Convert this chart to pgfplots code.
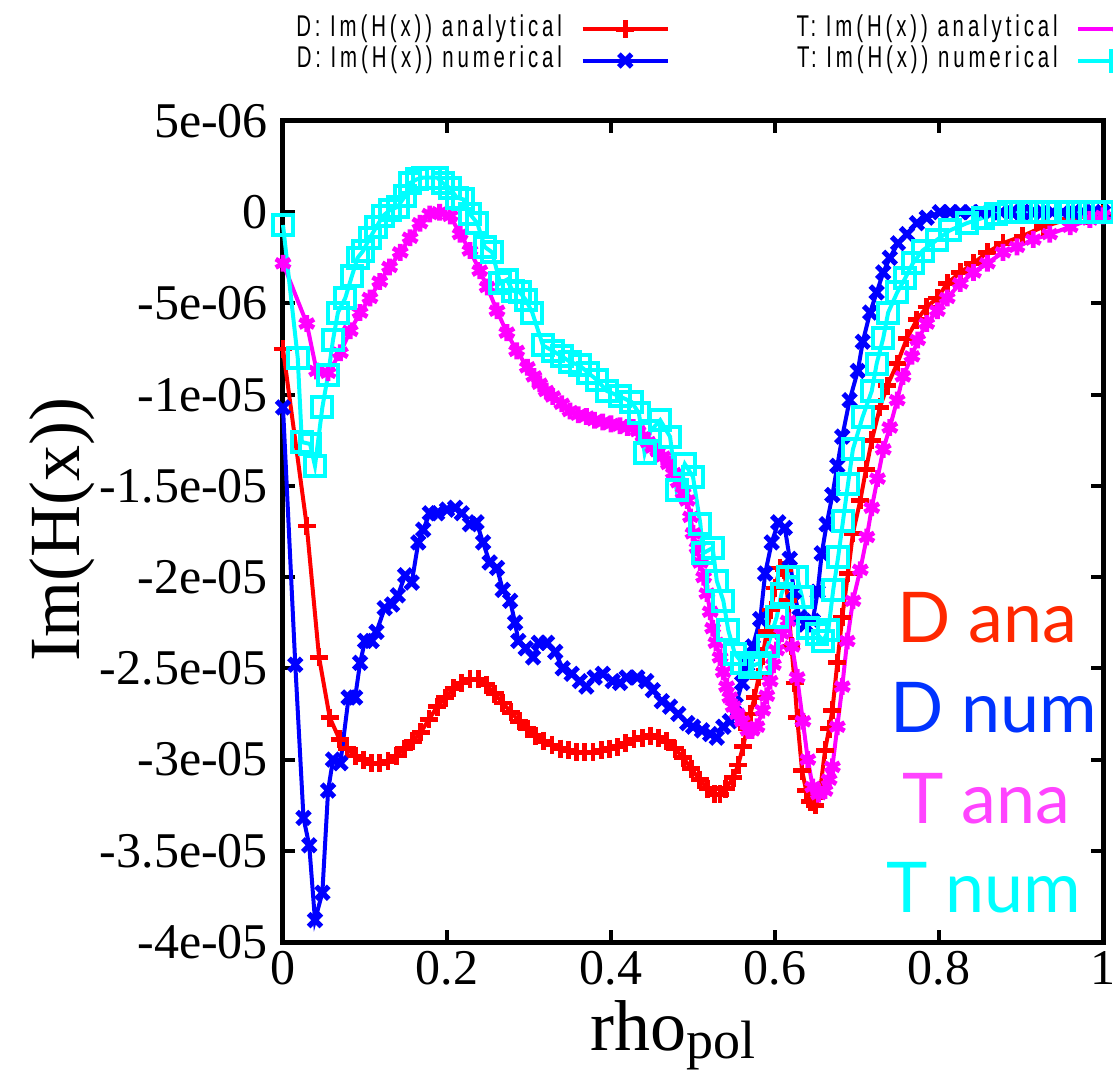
\documentclass[border=0pt]{standalone}
\usepackage{pgfplots}
\pgfplotsset{compat=1.18}
\usepackage{fontspec}
\setmainfont{Liberation Serif}
\newfontfamily\legfont[FakeStretch=0.68,LetterSpace=13]{Liberation Sans}
\newfontfamily\annfont{Lato}
\definecolor{cDana}{RGB}{255,40,0}
\definecolor{cDnum}{RGB}{0,51,255}
\definecolor{cTana}{RGB}{255,68,255}
\definecolor{cTnum}{RGB}{0,255,255}
\definecolor{pRed}{RGB}{255,0,0}
\definecolor{pBlue}{RGB}{0,0,255}
\definecolor{pMag}{RGB}{255,0,255}
\begin{document}
\begin{tikzpicture}
\begin{axis}[
 scale only axis, width=410pt, height=410.5pt,
 at={(0,0)}, anchor=south west,
 xmin=0, xmax=1, ymin=-4e-5, ymax=5e-6,
 xtick={0,0.2,0.4,0.6,0.8,1}, xticklabels={0,0.2,0.4,0.6,0.8,1},
 ytick={-4e-5,-3.5e-5,-3e-5,-2.5e-5,-2e-5,-1.5e-5,-1e-5,-5e-6,0,5e-6},
 yticklabels={-4e-05,-3.5e-05,-3e-05,-2.5e-05,-2e-05,-1.5e-05,-1e-05,-5e-06,0,5e-06},
 scaled ticks=false,
 tick align=inside, major tick length=6pt, minor tick num=0,
 tick style={line width=2pt,black},
 axis line style={line width=2.5pt},
 ticklabel style={font=\fontsize{25}{25}\selectfont},
 yticklabel style={xshift=-4pt},
 xticklabel style={yshift=-1pt},
 xlabel={rho\raisebox{-4pt}{\fontsize{27}{27}\selectfont pol}},
 ylabel={Im(H(x))},
 label style={font=\fontsize{36}{36}\selectfont},
 xlabel style={at={(axis description cs:0.375,-0.132)}, anchor=base west, inner sep=0pt},
 ylabel style={at={(axis description cs:-0.2695,0.502)}, anchor=center},
 clip=false,
 legend columns=2, transpose legend, legend plot pos=right, legend cell align=right,
 legend image code/.code={\draw[mark repeat=2,mark phase=2,#1] plot coordinates {(0pt,0pt) (21.25pt,0pt) (42.5pt,0pt)};},
 legend style={draw=none, fill=none, at={(axis description cs:0.005,1.136)}, anchor=north west,
   font=\legfont\fontsize{15}{15}\selectfont, row sep=0pt,
   nodes={inner sep=1.4pt, text height=10pt, text depth=2.8pt},
   /tikz/every odd column/.append style={column sep=8pt},
   /tikz/every even column/.append style={column sep=62pt}},
]
% D analytical
\addplot[color=pRed, line width=2pt, mark=+, mark size=4.5pt, mark options={line width=2.4pt}] table {
0 -7.5e-6
0.029 -17.2e-6
0.044 -24.4e-6
0.057 -27.7e-6
0.069 -28.9e-6
0.078 -29.4e-6
0.088 -29.8e-6
0.098 -30.0e-6
0.108 -30.2e-6
0.118 -30.2e-6
0.128 -30.1e-6
0.138 -29.8e-6
0.148 -29.4e-6
0.158 -29.0e-6
0.168 -28.5e-6
0.178 -27.8e-6
0.188 -27.1e-6
0.198 -26.6e-6
0.208 -26.1e-6
0.218 -25.8e-6
0.228 -25.6e-6
0.238 -25.6e-6
0.248 -25.9e-6
0.258 -26.4e-6
0.268 -26.9e-6
0.278 -27.4e-6
0.288 -27.9e-6
0.298 -28.3e-6
0.308 -28.7e-6
0.318 -29.0e-6
0.328 -29.2e-6
0.338 -29.4e-6
0.348 -29.5e-6
0.358 -29.6e-6
0.368 -29.6e-6
0.378 -29.6e-6
0.388 -29.5e-6
0.398 -29.4e-6
0.408 -29.3e-6
0.418 -29.1e-6
0.428 -28.9e-6
0.438 -28.8e-6
0.448 -28.7e-6
0.458 -28.8e-6
0.468 -29.0e-6
0.478 -29.4e-6
0.488 -29.9e-6
0.498 -30.5e-6
0.508 -31.1e-6
0.518 -31.6e-6
0.526 -31.9e-6
0.533 -31.9e-6
0.540 -31.6e-6
0.549 -31.0e-6
0.555 -30.3e-6
0.561 -29.3e-6
0.566 -28.3e-6
0.570 -27.5e-6
0.575 -26.6e-6
0.580 -25.5e-6
0.585 -24.3e-6
0.590 -23.0e-6
0.595 -21.8e-6
0.600 -20.6e-6
0.606 -19.5e-6
0.611 -19.6e-6
0.616 -21.3e-6
0.620 -23.8e-6
0.624 -25.8e-6
0.627 -27.7e-6
0.633 -30.6e-6
0.638 -31.7e-6
0.643 -32.3e-6
0.649 -32.5e-6
0.655 -31.7e-6
0.661 -29.5e-6
0.666 -28.3e-6
0.670 -27.3e-6
0.676 -24.7e-6
0.682 -22.2e-6
0.689 -19.8e-6
0.695 -17.6e-6
0.704 -15.8e-6
0.711 -14.1e-6
0.718 -12.5e-6
0.728 -10.7e-6
0.737 -9.5e-6
0.749 -8.3e-6
0.761 -6.9e-6
0.773 -5.9e-6
0.785 -5.2e-6
0.798 -4.7e-6
0.810 -3.9e-6
0.826 -3.3e-6
0.842 -2.8e-6
0.859 -2.2e-6
0.878 -1.7e-6
0.902 -1.3e-6
0.927 -0.8e-6
0.956 -0.4e-6
0.980 -0.2e-6
1.0 -0.1e-6
};
\addlegendentry{D: Im(H(x)) analytical}
% D numerical
\addplot[color=pBlue, line width=2pt, mark=x, mark size=4.5pt, mark options={line width=2.6pt}] table {
0 -10.7e-6
0.015 -24.8e-6
0.025 -33.2e-6
0.032 -34.7e-6
0.039 -38.8e-6
0.048 -37.3e-6
0.055 -31.7e-6
0.061 -30.0e-6
0.070 -30.2e-6
0.080 -26.6e-6
0.088 -26.6e-6
0.094 -24.7e-6
0.100 -23.5e-6
0.108 -23.5e-6
0.114 -23.0e-6
0.124 -21.7e-6
0.133 -21.5e-6
0.140 -21.0e-6
0.149 -19.9e-6
0.157 -20.3e-6
0.165 -18.1e-6
0.171 -17.4e-6
0.179 -16.5e-6
0.188 -16.5e-6
0.200 -16.3e-6
0.210 -16.2e-6
0.218 -16.5e-6
0.228 -17.1e-6
0.236 -17.0e-6
0.244 -18.1e-6
0.252 -19.2e-6
0.261 -19.5e-6
0.268 -20.7e-6
0.277 -21.3e-6
0.283 -22.5e-6
0.287 -23.5e-6
0.296 -23.9e-6
0.305 -24.4e-6
0.312 -23.6e-6
0.322 -23.6e-6
0.332 -24.1e-6
0.341 -25.0e-6
0.352 -25.3e-6
0.362 -25.7e-6
0.370 -26.0e-6
0.380 -25.5e-6
0.390 -25.3e-6
0.402 -25.7e-6
0.411 -25.8e-6
0.419 -25.5e-6
0.432 -25.5e-6
0.443 -25.7e-6
0.451 -26.2e-6
0.462 -26.8e-6
0.472 -27.1e-6
0.482 -27.5e-6
0.493 -28.0e-6
0.500 -28.2e-6
0.511 -28.4e-6
0.521 -28.6e-6
0.529 -28.8e-6
0.537 -28.2e-6
0.545 -27.9e-6
0.552 -27.0e-6
0.560 -25.8e-6
0.566 -24.8e-6
0.573 -23.8e-6
0.582 -22.3e-6
0.588 -19.8e-6
0.596 -18.1e-6
0.604 -17.0e-6
0.612 -17.3e-6
0.618 -19.0e-6
0.623 -20.8e-6
0.630 -22.2e-6
0.637 -22.6e-6
0.646 -22.4e-6
0.652 -20.8e-6
0.657 -18.7e-6
0.663 -17.1e-6
0.670 -15.5e-6
0.676 -13.9e-6
0.682 -12.3e-6
0.691 -10.3e-6
0.701 -8.7e-6
0.707 -7.1e-6
0.716 -5.5e-6
0.724 -4.4e-6
0.732 -3.3e-6
0.740 -2.5e-6
0.750 -1.7e-6
0.761 -1.2e-6
0.773 -0.6e-6
0.785 -0.3e-6
0.801 0
0.8135 0
0.826 0
0.8385 0
0.851 0
0.8635 0
0.876 0
0.8885 0
0.901 0
0.9135 0
0.926 0
0.9385 0
0.951 0
0.9635 0
0.976 0
0.9885 0
1.0 0
};
\addlegendentry{D: Im(H(x)) numerical}
% T analytical
\addplot[color=pMag, line width=2pt, mark=asterisk, mark size=4.2pt, mark options={line width=2.4pt}] table {
0 -2.8e-6
0.029 -6.1e-6
0.041 -8.7e-6
0.055 -8.8e-6
0.070 -7.7e-6
0.082 -6.5e-6
0.094 -5.5e-6
0.106 -4.7e-6
0.118 -3.8e-6
0.130 -3.0e-6
0.143 -2.2e-6
0.155 -1.4e-6
0.167 -0.6e-6
0.179 -0.1e-6
0.191 0.0
0.204 -0.2e-6
0.216 -1.2e-6
0.228 -2.1e-6
0.240 -3.2e-6
0.249 -4.1e-6
0.261 -5.4e-6
0.273 -6.6e-6
0.285 -7.6e-6
0.298 -8.5e-6
0.306 -9.0e-6
0.313 -9.4e-6
0.321 -9.8e-6
0.329 -10.1e-6
0.340 -10.5e-6
0.350 -10.9e-6
0.360 -11.1e-6
0.370 -11.2e-6
0.380 -11.4e-6
0.390 -11.5e-6
0.400 -11.6e-6
0.411 -11.7e-6
0.420 -11.8e-6
0.427 -11.8e-6
0.433 -12.0e-6
0.439 -12.3e-6
0.445 -12.6e-6
0.451 -12.9e-6
0.457 -13.1e-6
0.463 -13.4e-6
0.470 -13.8e-6
0.476 -14.3e-6
0.482 -14.8e-6
0.488 -15.4e-6
0.493 -15.8e-6
0.497 -16.7e-6
0.500 -17.6e-6
0.505 -18.4e-6
0.509 -19.2e-6
0.513 -20.0e-6
0.517 -20.9e-6
0.521 -21.9e-6
0.524 -22.8e-6
0.528 -23.6e-6
0.533 -24.4e-6
0.537 -25.2e-6
0.541 -26.0e-6
0.545 -26.6e-6
0.549 -27.1e-6
0.554 -27.5e-6
0.560 -27.9e-6
0.567 -28.4e-6
0.572 -28.4e-6
0.578 -28.2e-6
0.585 -27.3e-6
0.590 -26.5e-6
0.594 -25.7e-6
0.598 -24.8e-6
0.602 -24.0e-6
0.608 -23.1e-6
0.616 -22.4e-6
0.621 -23.8e-6
0.627 -25.5e-6
0.634 -27.9e-6
0.640 -30.0e-6
0.646 -31.5e-6
0.653 -31.9e-6
0.661 -31.7e-6
0.666 -31.1e-6
0.670 -30.4e-6
0.676 -28.2e-6
0.682 -26.0e-6
0.688 -23.5e-6
0.695 -21.3e-6
0.704 -19.6e-6
0.712 -17.8e-6
0.718 -16.2e-6
0.725 -14.6e-6
0.732 -13.0e-6
0.740 -11.8e-6
0.749 -10.3e-6
0.756 -9.0e-6
0.767 -7.9e-6
0.774 -7.0e-6
0.785 -6.1e-6
0.798 -5.4e-6
0.810 -4.7e-6
0.826 -3.9e-6
0.842 -3.3e-6
0.859 -2.8e-6
0.878 -2.2e-6
0.895 -1.9e-6
0.915 -1.5e-6
0.935 -1.2e-6
0.960 -0.8e-6
0.984 -0.4e-6
1.0 -0.2e-6
};
\addlegendentry{T: Im(H(x)) analytical}
% T numerical
\addplot[color=cTnum, line width=2pt, mark=square, mark size=5pt, mark options={line width=2pt}] table {
0 -0.7e-6
0.018 -8.0e-6
0.023 -12.6e-6
0.033 -12.7e-6
0.039 -13.9e-6
0.048 -10.7e-6
0.055 -8.9e-6
0.061 -7.0e-6
0.067 -5.5e-6
0.076 -4.7e-6
0.084 -3.5e-6
0.091 -2.5e-6
0.098 -2.1e-6
0.106 -1.4e-6
0.114 -0.8e-6
0.122 -0.2e-6
0.130 0.1e-6
0.140 0.3e-6
0.149 0.9e-6
0.155 1.6e-6
0.163 1.8e-6
0.171 1.9e-6
0.179 1.9e-6
0.188 1.9e-6
0.195 1.6e-6
0.204 1.3e-6
0.212 0.8e-6
0.220 0.7e-6
0.228 -0.1e-6
0.237 -0.6e-6
0.246 -1.9e-6
0.255 -2.2e-6
0.265 -3.9e-6
0.273 -3.7e-6
0.280 -4.3e-6
0.289 -4.4e-6
0.296 -4.8e-6
0.304 -5.5e-6
0.317 -7.3e-6
0.329 -7.6e-6
0.340 -7.9e-6
0.350 -8.2e-6
0.362 -8.4e-6
0.372 -8.8e-6
0.383 -9.2e-6
0.395 -9.8e-6
0.411 -10.1e-6
0.425 -10.4e-6
0.434 -11.0e-6
0.441 -13.2e-6
0.448 -12.0e-6
0.460 -11.4e-6
0.472 -12.3e-6
0.480 -15.2e-6
0.490 -13.8e-6
0.500 -14.5e-6
0.509 -17.1e-6
0.512 -18.7e-6
0.524 -18.4e-6
0.529 -20.2e-6
0.537 -21.3e-6
0.543 -22.9e-6
0.551 -24.2e-6
0.560 -24.7e-6
0.570 -24.9e-6
0.582 -24.7e-6
0.591 -23.8e-6
0.602 -22.2e-6
0.608 -20.9e-6
0.616 -20.0e-6
0.627 -20.0e-6
0.633 -21.1e-6
0.640 -22.8e-6
0.651 -23.1e-6
0.659 -23.5e-6
0.665 -22.9e-6
0.671 -20.7e-6
0.677 -18.9e-6
0.683 -16.9e-6
0.689 -14.9e-6
0.695 -13.0e-6
0.707 -11.2e-6
0.718 -9.8e-6
0.724 -8.3e-6
0.732 -6.9e-6
0.738 -5.5e-6
0.749 -4.4e-6
0.759 -3.6e-6
0.768 -2.8e-6
0.780 -2.1e-6
0.798 -1.5e-6
0.813 -1.0e-6
0.834 -0.6e-6
0.854 -0.3e-6
0.870 -0.1e-6
0.885 0
0.900 0
0.915 0
0.930 0
0.945 0
0.960 0
0.975 0
0.990 0
1.0 0
};
\addlegendentry{T: Im(H(x)) numerical}
\node[anchor=base west, inner sep=0pt, text=cDana, font=\annfont\fontsize{35}{35}\selectfont] at (axis cs:0.749,-23.6e-6) {D ana};
\node[anchor=base west, inner sep=0pt, text=cDnum, font=\annfont\fontsize{35}{35}\selectfont] at (axis cs:0.740,-28.5e-6) {D num};
\node[anchor=base west, inner sep=0pt, text=cTana, font=\annfont\fontsize{35}{35}\selectfont] at (axis cs:0.755,-33.5e-6) {T ana};
\node[anchor=base west, inner sep=0pt, text=cTnum, font=\annfont\fontsize{35}{35}\selectfont] at (axis cs:0.735,-38.4e-6) {T num};
\end{axis}
\pgfresetboundingbox
\path[use as bounding box] (-141.5pt,-64pt) rectangle (415pt,471pt);
\end{tikzpicture}
\end{document}
